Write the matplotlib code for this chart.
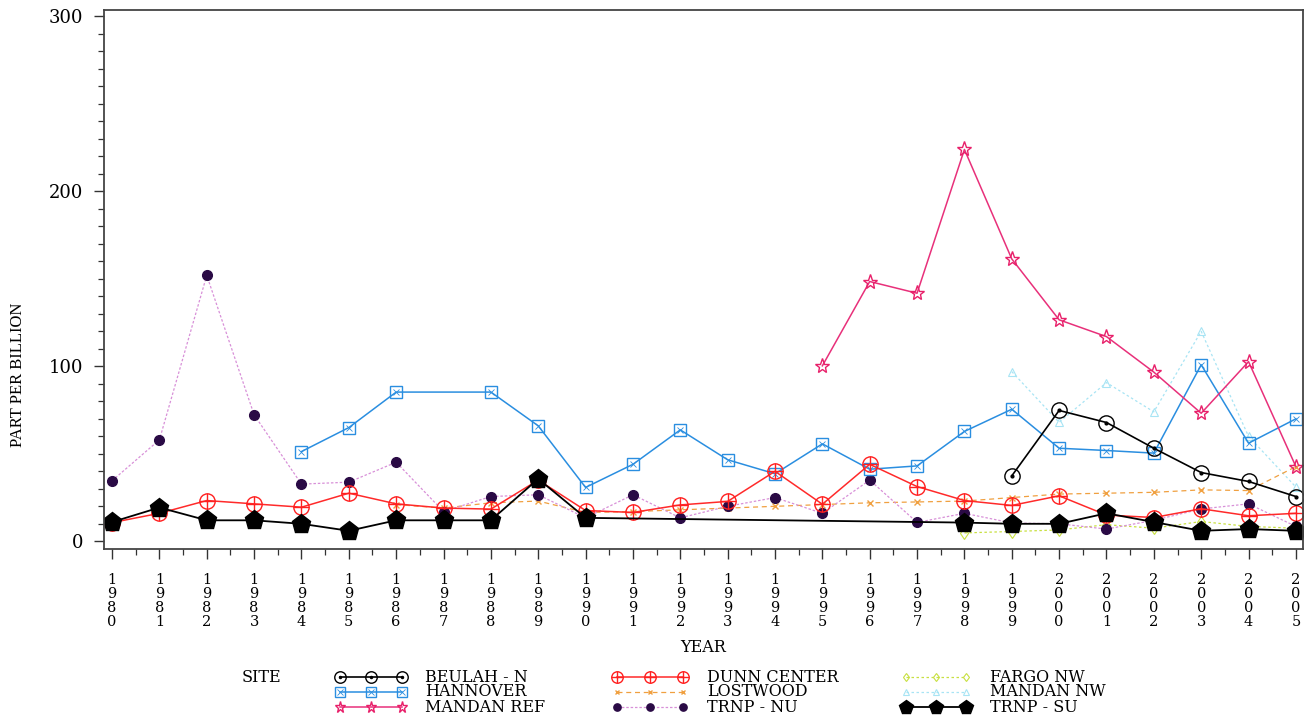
import matplotlib
matplotlib.use("Agg")
import matplotlib.pyplot as plt
from matplotlib.lines import Line2D

# ---------------- data ----------------
years_all = list(range(1980, 2006))

beulah_years = [1999, 2000, 2001, 2002, 2003, 2004, 2005]
beulah_vals = [37.4, 74.8, 67.9, 53.2, 39.3, 34.2, 25.6]

dunn_years = list(range(1980, 2006))
dunn_vals = [10.7, 16, 23.3, 21.4, 19.5, 27.5, 21.4, 19, 18.4, 35, 17.6, 16.5, 20.8,
             22.8, 40, 21.2, 44, 31.3, 23.3, 20.5, 26, 15, 13.6, 18.6, 14.6, 16]

fargo_years = [1998, 1999, 2000, 2001, 2002, 2003, 2004, 2005]
fargo_vals = [4.8, 5.6, 6.5, 9.5, 7.5, 11.3, 8.5, 7.5]

hannover_years = [1984, 1985, 1986, 1988, 1989, 1990, 1991, 1992, 1993, 1994, 1995,
                  1996, 1997, 1998, 1999, 2000, 2001, 2002, 2003, 2004, 2005]
hannover_vals = [51.3, 65, 85.3, 85.3, 66, 30.8, 44, 63.7, 46.6, 38.6, 55.7,
                 41.2, 43.1, 62.8, 75.5, 53.2, 51.9, 50.4, 100.9, 56.1, 70]

lostwood_years = list(range(1986, 2006))
lostwood_vals = [21, 19, 22, 23, 16.5, 17, 18, 19, 20, 21, 22, 22.5, 23, 25, 27,
                 27.5, 28, 29.4, 29, 42.7]

mandannw_years = [1999, 2000, 2001, 2002, 2003, 2004, 2005]
mandannw_vals = [97, 68, 90.7, 74, 120, 60, 31]

mandanref_years = [1995, 1996, 1997, 1998, 1999, 2000, 2001, 2002, 2003, 2004, 2005]
mandanref_vals = [100.3, 148.5, 141.8, 224, 161.4, 126.6, 117, 96.7, 73.2, 102.7, 42.7]

trnpnu_years = list(range(1980, 2006))
trnpnu_vals = [34.6, 58, 152, 72.3, 32.7, 33.8, 45.2, 17, 25.6, 26.6, 13.4, 26.6, 13.4,
               20, 25, 16, 35, 10.8, 16, 10.5, 10, 7, 12, 18.5, 21.4, 8.5]

trnpsu_years = [1980, 1981, 1982, 1983, 1984, 1985, 1986, 1987, 1988, 1989, 1990,
                1998, 1999, 2000, 2001, 2002, 2003, 2004, 2005]
trnpsu_vals = [11, 19.3, 12, 12, 10, 6, 12, 12, 12, 35.7, 13.4,
               10.7, 10, 10, 16, 11, 6, 7, 6]

site_labels = ["BEULAH - N", "HANNOVER", "MANDAN REF", "DUNN CENTER", "LOSTWOOD",
               "TRNP - NU", "FARGO NW", "MANDAN NW", "TRNP - SU"]

# ---------------- styles ----------------
serif = "DejaVu Serif"
W, H = 1311, 721

st_fargo = dict(color="#c8e040", lw=0.9, ls=(0, (2, 2)), marker="d", mfc="none",
                mec="#c8e040", ms=6, mew=0.8)
st_mnw = dict(color="#a8e4f4", lw=0.9, ls=(0, (2, 2)), marker="^", mfc="none",
              mec="#a8e4f4", ms=6, mew=0.8)
st_lost = dict(color="#f0a040", lw=0.9, ls=(0, (4, 3)), marker="x", ms=4, mew=1.0)
st_nu = dict(color="#d890d8", lw=0.9, ls=(0, (2, 1.5)), marker="o", mfc="#2a0a45",
             mec="#2a0a45", ms=7)
st_han = dict(color="#2a8ee0", lw=1.1, marker="s", mfc="none", mec="#2a8ee0", ms=9, mew=1.0)
st_han2 = dict(ls="none", marker="x", color="#2a8ee0", ms=5, mew=0.6)
st_ref = dict(color="#e8307a", lw=1.1, marker="*", mfc="none", mec="#e8206a", ms=11, mew=1.0)
st_dunn = dict(color="#ff2a2a", lw=1.1, marker="o", mfc="none", mec="#ff2020", ms=11, mew=1.0)
st_dunn2 = dict(ls="none", marker="+", color="#ff2020", ms=11, mew=1.0)
st_beu = dict(color="black", lw=1.2, marker="o", mfc="none", mec="black", ms=11, mew=1.0)
st_beu2 = dict(ls="none", marker="o", color="black", ms=2)
st_su = dict(color="black", lw=1.3, marker="p", mfc="black", mec="black", ms=14)

# ---------------- figure ----------------
fig = plt.figure(figsize=(W / 100, H / 100), dpi=100)
ax = fig.add_axes([104 / W, 1 - 549 / H, (1303 - 104) / W, (549 - 10) / H])

ax.plot(fargo_years, fargo_vals, **st_fargo)
ax.plot(mandannw_years, mandannw_vals, **st_mnw)
ax.plot(lostwood_years, lostwood_vals, **st_lost)
ax.plot(trnpnu_years, trnpnu_vals, **st_nu)
ax.plot(hannover_years, hannover_vals, **st_han)
ax.plot(hannover_years, hannover_vals, **st_han2)
ax.plot(mandanref_years, mandanref_vals, **st_ref)
ax.plot(dunn_years, dunn_vals, **st_dunn)
ax.plot(dunn_years, dunn_vals, **st_dunn2)
ax.plot(beulah_years, beulah_vals, **st_beu)
ax.plot(beulah_years, beulah_vals, **st_beu2)
ax.plot(trnpsu_years, trnpsu_vals, **st_su)

# ---------------- axes ----------------
ax.set_xlim(1979.83, 2005.15)
ax.set_ylim(-4.4, 303.7)
ax.set_xticks(years_all)
ax.set_xticks([y + 0.5 for y in years_all[:-1]], minor=True)
ax.set_xticklabels(["\n".join(str(y)) for y in years_all], fontfamily=serif,
                   fontsize=10.5, linespacing=1.0)
ax.set_yticks([0, 100, 200, 300])
ax.set_yticks([v for v in range(0, 301, 10) if v % 100], minor=True)
ax.set_yticklabels(["0", "100", "200", "300"], fontfamily=serif, fontsize=13)
ax.tick_params(axis="both", which="major", length=7, width=1.0, color="#333333")
ax.tick_params(axis="both", which="minor", length=4, width=0.9, color="#333333")
ax.tick_params(axis="x", which="major", pad=10)
ax.tick_params(axis="y", which="major", pad=8)
for s in ax.spines.values():
    s.set_color("#444444")
    s.set_linewidth(1.3)

fig.text(703 / W, 1 - 647 / H, "YEAR", ha="center", va="center",
         fontfamily=serif, fontsize=11.5)
fig.text(18 / W, 1 - 375 / H, "PART PER BILLION", ha="center", va="center",
         rotation=90, fontfamily="Liberation Serif", fontsize=12)

# ---------------- legend (manual, figure coordinates) ----------------
fig.text(242 / W, 1 - 677 / H, "SITE", ha="left", va="center",
         fontfamily=serif, fontsize=11.5)

legend_styles = [[st_beu, st_beu2], [st_han, st_han2], [st_ref],
                 [st_dunn, st_dunn2], [st_lost], [st_nu],
                 [st_fargo], [st_mnw], [st_su]]
col_marks = [(340, 371, 402), (617, 650, 683), (906, 936, 966)]
col_text = [425, 707, 990]
row_y = [677, 692, 707]

for i, (lab, styles) in enumerate(zip(site_labels, legend_styles)):
    c, r = divmod(i, 3)
    xs = [x / W for x in col_marks[c]]
    yy = 1 - row_y[r] / H
    for sty in styles:
        s = dict(sty)
        if "ms" in s:
            s["ms"] = s["ms"] * 0.75
        ln = Line2D(xs, [yy] * 3, transform=fig.transFigure, **s)
        fig.add_artist(ln)
    fig.text(col_text[c] / W, yy, lab, ha="left", va="center",
             fontfamily=serif, fontsize=11.5)

fig.savefig("out.png", dpi=100)
